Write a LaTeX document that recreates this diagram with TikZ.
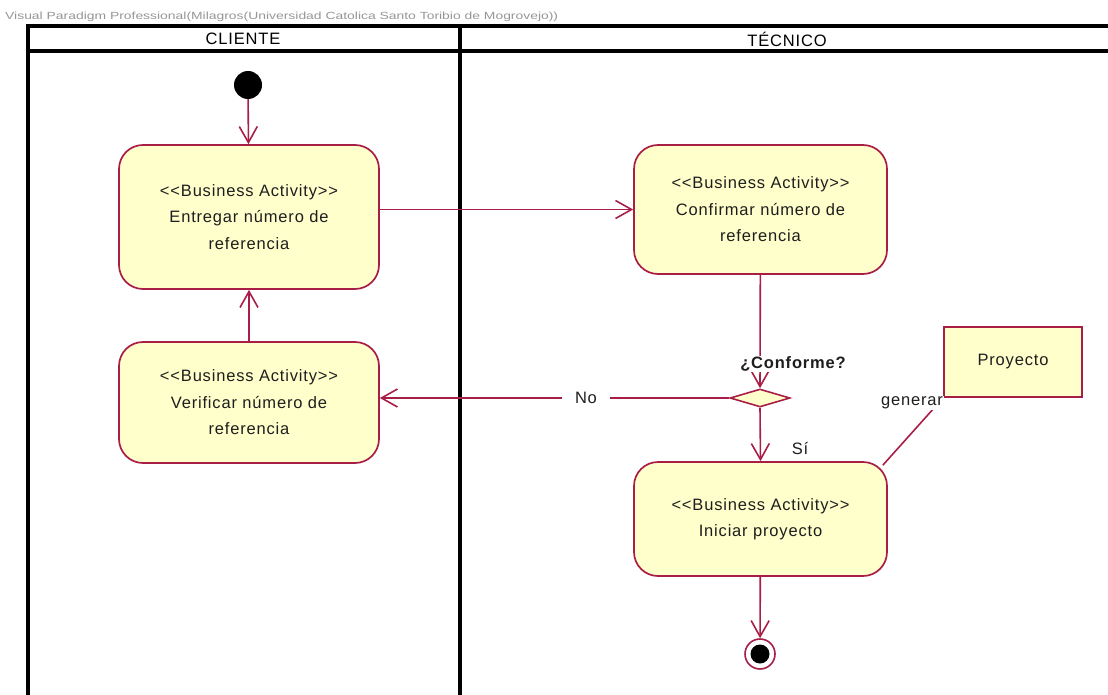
\documentclass[tikz,border=0pt]{standalone}
\usepackage{fontspec}
\setmainfont{Liberation Sans}
\newfontfamily\vpfont[LetterSpace=5]{Liberation Sans}
\usetikzlibrary{arrows.meta,shapes.geometric,calc,backgrounds}
\definecolor{vpline}{RGB}{168,30,70}
\definecolor{vpfill}{RGB}{255,255,204}
\definecolor{vptext}{RGB}{30,30,30}
\definecolor{vpgrey}{RGB}{150,150,150}
\begin{document}
\begin{tikzpicture}[x=1pt,y=-1pt,
  activity/.style={draw=vpline, fill=vpfill, line width=1.7pt, rounded corners=24pt,
    align=center, text=vptext, font=\vpfont\fontsize{16.5}{26.5}\selectfont, inner sep=0pt},
  objbox/.style={draw=vpline, fill=vpfill, line width=1.7pt, text=vptext,
    font=\vpfont\fontsize{16.5}{20}\selectfont, inner sep=0pt},
  flow/.style={draw=vpline, line width=1.6pt, -{Straight Barb[length=16pt,width=18pt]}},
  assoc/.style={draw=vpline, line width=1.6pt},
  lane/.style={line width=3.6pt, draw=black},
  lanetitle/.style={font=\vpfont\fontsize{16.5}{20}\selectfont, text=black},
  guard/.style={font=\vpfont\fontsize{16.5}{20}\selectfont, text=vptext, inner sep=1pt}
]
\useasboundingbox (0,0) rectangle (1108,695);
\begin{scope}
\clip (0,0) rectangle (1108,695);
% watermark
\node[anchor=base west, inner sep=0pt, text=vpgrey] (wm) at (5,20)
  {\resizebox{553pt}{7.5pt}{\fontsize{10}{12}\selectfont Visual Paradigm Professional(Milagros(Universidad Catolica Santo Toribio de Mogrovejo))}};
% swimlanes
\draw[lane] (28,700) -- (28,26) -- (1115,26);
\draw[lane] (28,51) -- (1115,51);
\draw[lane] (460,26) -- (460,700);
\node[lanetitle] (cliente) at (243,39) {CLIENTE};
\node[lanetitle] (tecnico) at (787,39) {TÉCNICO};
\end{scope}

% nodes
\node[circle, fill=black, minimum size=28pt, inner sep=0pt] (init) at (248,85) {};
\node[activity, minimum width=260pt, minimum height=144pt] (entregar) at (249,217)
  {<<Business Activity>>\\Entregar número de\\referencia};
\node[activity, minimum width=260pt, minimum height=121pt] (verificar) at (249,402.5)
  {<<Business Activity>>\\Verificar número de\\referencia};
\node[activity, minimum width=253pt, minimum height=129pt] (confirmar) at (760.5,209.5)
  {<<Business Activity>>\\Confirmar número de\\referencia};
\node[activity, minimum width=253pt, minimum height=114pt] (iniciar) at (760.5,519)
  {<<Business Activity>>\\Iniciar proyecto};
\node[diamond, draw=vpline, fill=vpfill, line width=1.6pt, minimum width=60pt,
  minimum height=18pt, inner sep=0pt] (dec) at (760,398) {};
\node[objbox, minimum width=138pt, minimum height=70pt] (proyecto) at (1013,362) {Proyecto};
\node[circle, draw=vpline, fill=white, line width=1.6pt, minimum size=30pt, inner sep=0pt] (final) at (760,654) {};
\node[circle, fill=black, minimum size=19pt, inner sep=0pt] (finaldot) at (final) {};

% connectors
\draw[flow] (init) -- (entregar);
\draw[flow] (entregar.east |- confirmar) -- (confirmar.west);
\draw[flow] (verificar) -- (entregar);
\draw[flow] (confirmar) -- (dec.north);
\draw[flow] (dec.west) -- node[pos=0.41, fill=white, inner xsep=13pt, inner ysep=2pt,
  font=\vpfont\fontsize{16.5}{20}\selectfont, text=vptext] (nolabel) {No} (verificar.east |- dec);
\draw[flow] (dec.south) -- (iniciar.north);
\draw[flow] (iniciar) -- (final);
\begin{scope}[on background layer]
\draw[assoc] ($(iniciar.north east)+(-5,4)$) -- (proyecto.south west);
\end{scope}

% labels
\node[guard, fill=white] (conforme) at (793,364) {\bfseries ¿Conforme?};
\node[guard] (si) at (800,449) {Sí};
\node[guard, fill=white] (generar) at (912,403) {generar};
\end{tikzpicture}
\end{document}
